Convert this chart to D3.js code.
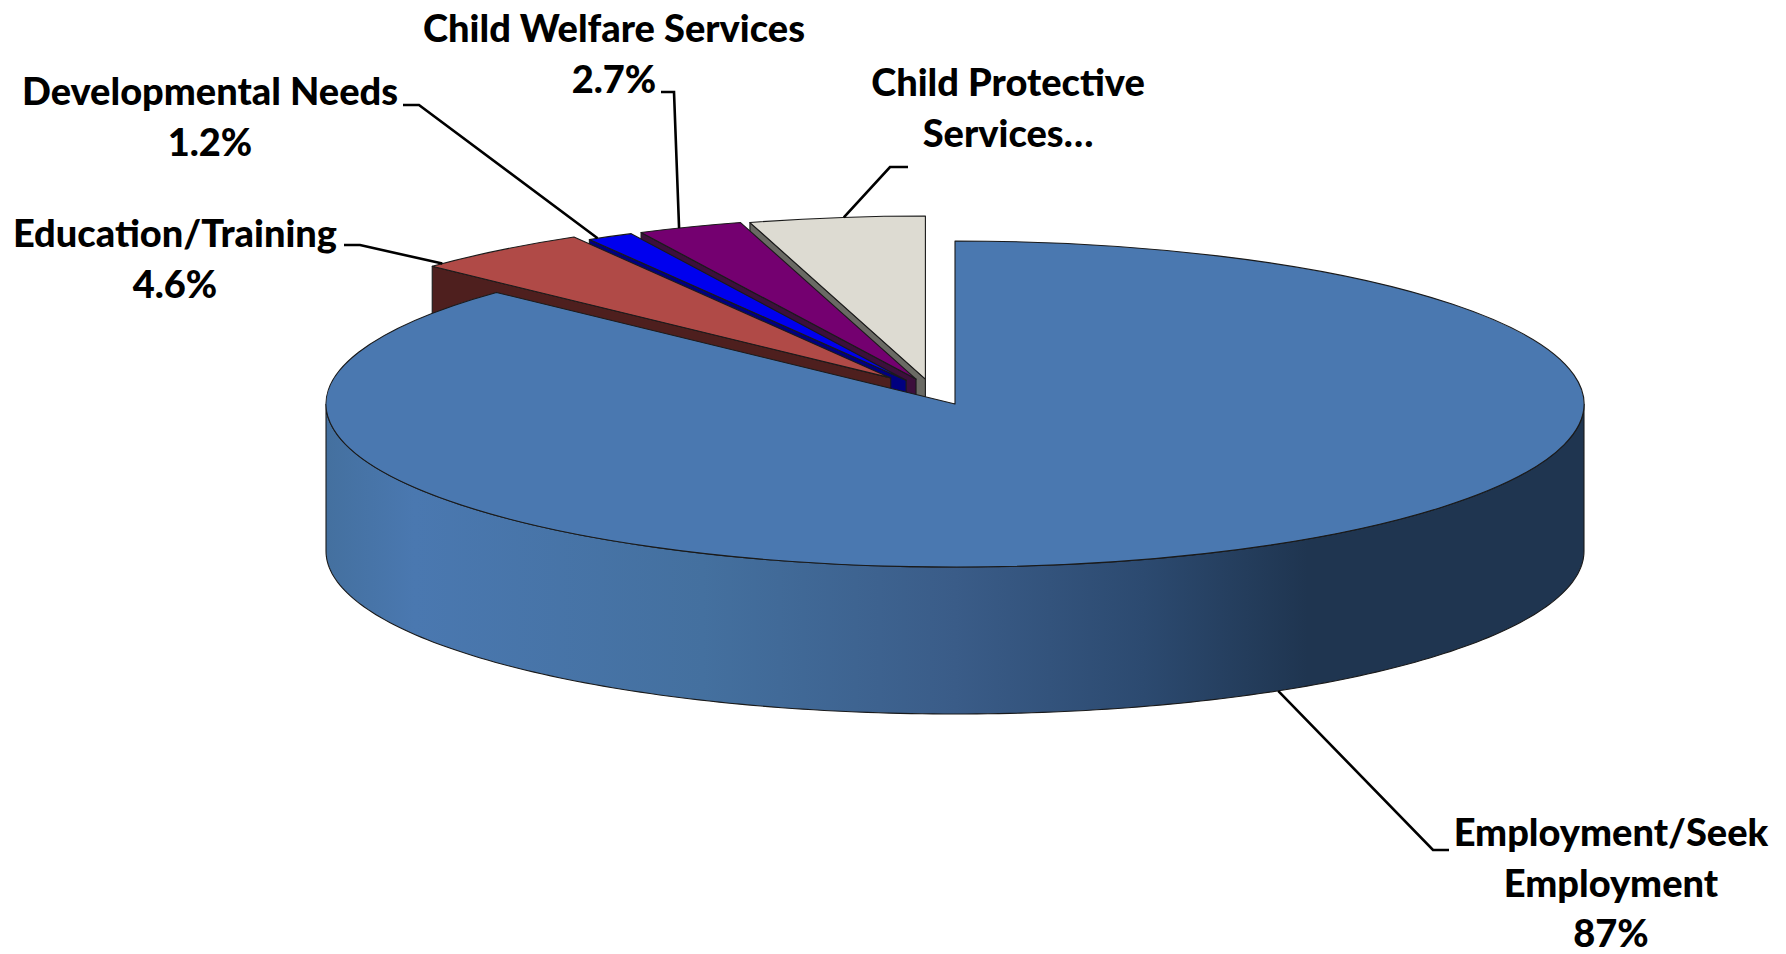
<!DOCTYPE html>
<html>
<head>
<meta charset="utf-8">
<script src="https://cdn.jsdelivr.net/npm/d3@7"></script>
<style>
  html, body { margin: 0; padding: 0; background: #fff; }
  svg { display: block; }
  text { font-family: Lato, "Open Sans", sans-serif; font-weight: 900; fill: #000; }
</style>
</head>
<body>
<svg id="chart" width="1786" height="954"></svg>
<script>
// Share of cases by reason for contact, in slice order clockwise from 12 o'clock.
const categories = ["Employment/Seek Employment", "Education/Training", "Developmental Needs", "Child Welfare Services", "Child Protective Services"];
const values = [87, 4.6, 1.2, 2.7, 4.5];
const labelLines = [
  ["Employment/Seek", "Employment", "87%"],
  ["Education/Training", "4.6%"],
  ["Developmental Needs", "1.2%"],
  ["Child Welfare Services", "2.7%"],
  ["Child Protective", "Services…"]
];

// Presentation settings.
const topColors = ["#4a78b0", "#b04a47", "#0000ee", "#740070", "#dddbd2"];
const wallColors = ["#4a78b0", "#4e1f1e", "#000080", "#3c0f3c", "#6a6a64"];
const explode = [0, 0.19, 0.165, 0.165, 0.16];
const explodeSkew = [0, 6, 0, -1, -9];
const leaderFraction = [0.476, 0.08, 0.2, 0.39, 0.54];
const labelCentres = [[1611, 846], [175, 247], [210, 105], [614, 42], [1008, 96]];
const labelElbows = [
  [[1449, 850], [1433, 850]],
  [[344, 245], [360, 245]],
  [[403, 105], [419, 105]],
  [[661, 92], [674, 92]],
  [[908, 167], [890, 167]]
];

const cx = 955, cy = 404, rx = 629, ry = 163, depth = 147;
const lineHeight = 50.5, fontSize = 38;

const svg = d3.select("#chart");

const defs = svg.append("defs");
const wallGrad = defs.append("linearGradient")
  .attr("id", "wallShade")
  .attr("gradientUnits", "userSpaceOnUse")
  .attr("x1", cx - rx).attr("x2", cx + rx).attr("y1", 0).attr("y2", 0);
[[0, "#44709f"], [0.07, "#4a78b0"], [0.3, "#44709f"], [0.5, "#3a5c88"],
 [0.65, "#2c4a70"], [0.78, "#1f3550"], [1, "#1f3550"]].forEach(([o, c]) =>
  wallGrad.append("stop").attr("offset", o).attr("stop-color", c));

const pie = d3.pie().sort(null).value(d => d).startAngle(0).endAngle(2 * Math.PI);
const arcs = pie(values).map((a, i) => {
  const mid = (a.startAngle + a.endAngle) / 2 + explodeSkew[i] * Math.PI / 180;
  const e = explode[i];
  return {
    ...a, i,
    ax: cx + e * rx * Math.sin(mid),
    ay: cy - e * ry * Math.cos(mid)
  };
});

// Project a pie angle onto the tilted disc whose centre sits at (ox, oy).
const rim = (ox, oy, t, drop = 0) => [ox + rx * Math.sin(t), oy - ry * Math.cos(t) + drop];

const arcGen = d3.arc().innerRadius(0).outerRadius(rx);
const outline = d3.line().curve(d3.curveLinear);
const edgeColor = "#1a1a1a", edgeWidth = 1.1;

function drawTop(g, a) {
  g.append("path")
    .attr("d", arcGen(a))
    .attr("transform", `translate(${a.ax},${a.ay}) scale(1,${ry / rx})`)
    .attr("vector-effect", "non-scaling-stroke")
    .attr("fill", topColors[a.i])
    .attr("stroke", edgeColor).attr("stroke-width", edgeWidth)
    .attr("stroke-linejoin", "round");
}

const pieG = svg.append("g");

// Pulled-out slices, painted from the far right towards the left so each cut face
// falls behind the slice next to it.
arcs.slice(1).reverse().forEach(a => {
  const g = pieG.append("g");
  const corner = rim(a.ax, a.ay, a.startAngle);
  g.append("path")
    .attr("d", outline([corner, [a.ax, a.ay], [a.ax, a.ay + depth], [corner[0], corner[1] + depth]]) + "Z")
    .attr("fill", wallColors[a.i])
    .attr("stroke", edgeColor).attr("stroke-width", edgeWidth)
    .attr("stroke-linejoin", "round");
  drawTop(g, a);
});

// Main slice: curved front wall, then the top face over it.
const main = arcs[0];
const frontAngles = d3.range(90, 270.5, 1).map(d => d * Math.PI / 180);
const wallPts = frontAngles.map(t => rim(main.ax, main.ay, t))
  .concat(frontAngles.slice().reverse().map(t => rim(main.ax, main.ay, t, depth)));
pieG.append("path")
  .attr("d", outline(wallPts) + "Z")
  .attr("fill", "url(#wallShade)")
  .attr("stroke", edgeColor).attr("stroke-width", edgeWidth);
drawTop(pieG, main);

// Leader lines: text elbow, then a diagonal run to a point on the slice rim.
const leaderG = svg.append("g");
arcs.forEach(a => {
  const t = a.startAngle + (a.endAngle - a.startAngle) * leaderFraction[a.i];
  const anchor = rim(a.ax, a.ay, t, a.i === 0 ? depth : 0);
  leaderG.append("path")
    .attr("d", outline([...labelElbows[a.i], anchor]))
    .attr("fill", "none").attr("stroke", "#000").attr("stroke-width", 2.6);
});

// Category labels, one centred text per line.
const textG = svg.append("g").attr("font-size", fontSize).attr("text-anchor", "middle");
labelLines.forEach((lines, i) => {
  const [x, y] = labelCentres[i];
  lines.forEach((line, j) => {
    textG.append("text").attr("x", x).attr("y", y + j * lineHeight).text(line);
  });
});
</script>
</body>
</html>
